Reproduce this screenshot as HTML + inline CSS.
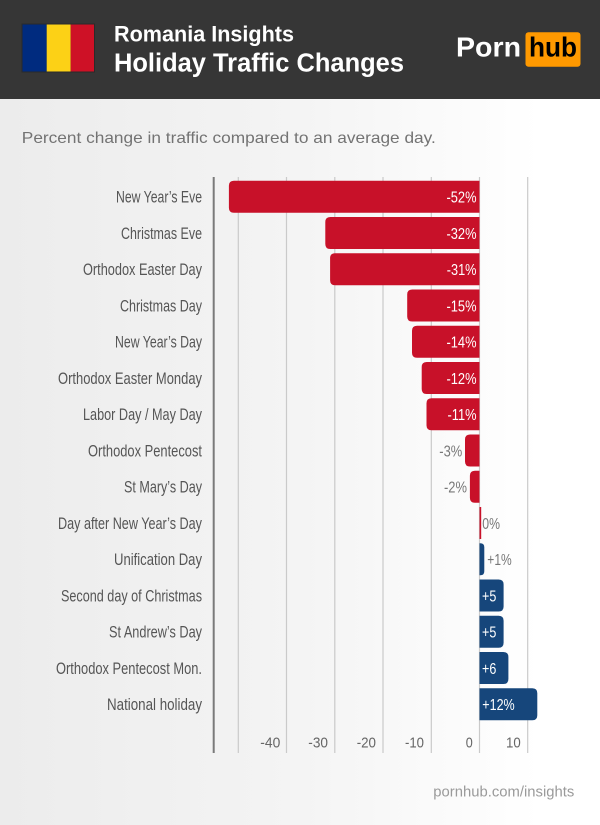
<!DOCTYPE html>
<html>
<head>
<meta charset="utf-8">
<style>
  html,body{margin:0;padding:0;}
  body{width:600px;height:825px;overflow:hidden;background:#fff;}
  svg{display:block;}
  .cat{font-family:"Liberation Sans Narrow","Liberation Sans",sans-serif;font-size:17px;fill:#555;}
  .val{font-family:"Liberation Sans Narrow","Liberation Sans",sans-serif;font-size:16px;}
  .tick{font-family:"Liberation Sans Narrow","Liberation Sans",sans-serif;font-size:15px;fill:#666;}
</style>
</head>
<body>
<svg width="600" height="825" viewBox="0 0 600 825" xmlns="http://www.w3.org/2000/svg">
  <defs>
    <linearGradient id="bg" x1="0" y1="0" x2="1" y2="0">
      <stop offset="0" stop-color="#ececec"/>
      <stop offset="0.5" stop-color="#f4f4f4"/>
      <stop offset="0.9" stop-color="#ffffff"/>
    </linearGradient>
  </defs>
  <!-- background -->
  <rect x="0" y="99" width="600" height="726" fill="url(#bg)"/>
  <!-- header -->
  <rect x="0" y="0" width="600" height="99" fill="#363636"/>
  <!-- flag -->
  <rect x="21.5" y="23.5" width="73.5" height="49" fill="#2a2a2a"/>
  <rect x="22.5" y="24.5" width="24.2" height="47" fill="#002b7f"/>
  <rect x="46.7" y="24.5" width="24" height="47" fill="#fcd116"/>
  <rect x="70.7" y="24.5" width="23.3" height="47" fill="#ce1126"/>
  <!-- titles -->
  <text x="114" y="41.7" font-family="Liberation Sans, sans-serif" font-weight="bold" font-size="22" fill="#fff" textLength="180" lengthAdjust="spacingAndGlyphs">Romania Insights</text>
  <text x="114" y="71.7" font-family="Liberation Sans, sans-serif" font-weight="bold" font-size="25.5" fill="#fff" textLength="290" lengthAdjust="spacingAndGlyphs">Holiday Traffic Changes</text>
  <!-- logo -->
  <text x="456" y="56.7" font-family="Liberation Sans, sans-serif" font-weight="bold" font-size="28" fill="#fff" textLength="65" lengthAdjust="spacingAndGlyphs">Porn</text>
  <rect x="525.5" y="32.3" width="55" height="34.4" rx="3" fill="#ff9900"/>
  <text x="529" y="56.7" font-family="Liberation Sans, sans-serif" font-weight="bold" font-size="28" fill="#000" textLength="48" lengthAdjust="spacingAndGlyphs">hub</text>

  <!-- subtitle -->
  <text x="21.8" y="143" font-family="Liberation Sans, sans-serif" font-size="16" fill="#737373" textLength="414" lengthAdjust="spacingAndGlyphs">Percent change in traffic compared to an average day.</text>

  <!-- gridlines -->
  <g stroke="#cacaca" stroke-width="1.2">
    <line x1="238.3" y1="177" x2="238.3" y2="753"/>
    <line x1="286.5" y1="177" x2="286.5" y2="753"/>
    <line x1="334.8" y1="177" x2="334.8" y2="753"/>
    <line x1="383" y1="177" x2="383" y2="753"/>
    <line x1="431.3" y1="177" x2="431.3" y2="753"/>
    <line x1="479.5" y1="177" x2="479.5" y2="753"/>
    <line x1="527.7" y1="177" x2="527.7" y2="753"/>
  </g>
  <line x1="213.7" y1="177" x2="213.7" y2="753" stroke="#7a7a7a" stroke-width="2"/>

  <!-- bars -->
  <g fill="#c81129">
    <path d="M479.5,180.7H233.9Q228.9,180.7 228.9,185.7V207.7Q228.9,212.7 233.9,212.7H479.5Z"/>
    <path d="M479.5,217H330.3Q325.3,217 325.3,222V244Q325.3,249 330.3,249H479.5Z"/>
    <path d="M479.5,253.2H335.1Q330.1,253.2 330.1,258.2V280.2Q330.1,285.2 335.1,285.2H479.5Z"/>
    <path d="M479.5,289.5H412.2Q407.2,289.5 407.2,294.5V316.5Q407.2,321.5 412.2,321.5H479.5Z"/>
    <path d="M479.5,325.7H417Q412,325.7 412,330.7V352.7Q412,357.7 417,357.7H479.5Z"/>
    <path d="M479.5,362H426.7Q421.7,362 421.7,367V389Q421.7,394 426.7,394H479.5Z"/>
    <path d="M479.5,398.2H431.5Q426.5,398.2 426.5,403.2V425.2Q426.5,430.2 431.5,430.2H479.5Z"/>
    <path d="M479.5,434.5H470Q465,434.5 465,439.5V461.5Q465,466.5 470,466.5H479.5Z"/>
    <path d="M479.5,470.7H474.9Q469.9,470.7 469.9,475.7V497.7Q469.9,502.7 474.9,502.7H479.5Z"/>
    <rect x="479.5" y="507" width="1.7" height="32"/>
  </g>
  <g fill="#16467b">
    <path d="M479.5,543.2H480.3Q484.3,543.2 484.3,547.2V571.2Q484.3,575.2 480.3,575.2H479.5Z"/>
    <path d="M479.5,579.5H498.6Q503.6,579.5 503.6,584.5V606.5Q503.6,611.5 498.6,611.5H479.5Z"/>
    <path d="M479.5,615.7H498.6Q503.6,615.7 503.6,620.7V642.7Q503.6,647.7 498.6,647.7H479.5Z"/>
    <path d="M479.5,652H503.4Q508.4,652 508.4,657V679Q508.4,684 503.4,684H479.5Z"/>
    <path d="M479.5,688.2H532.3Q537.3,688.2 537.3,693.2V715.2Q537.3,720.2 532.3,720.2H479.5Z"/>
  </g>

  <!-- category labels -->
  <g class="cat">
    <text x="116" y="202.7" textLength="86" lengthAdjust="spacingAndGlyphs">New Year’s Eve</text>
    <text x="121" y="239" textLength="81" lengthAdjust="spacingAndGlyphs">Christmas Eve</text>
    <text x="83" y="275.2" textLength="119" lengthAdjust="spacingAndGlyphs">Orthodox Easter Day</text>
    <text x="120" y="311.5" textLength="82" lengthAdjust="spacingAndGlyphs">Christmas Day</text>
    <text x="115" y="347.7" textLength="87" lengthAdjust="spacingAndGlyphs">New Year’s Day</text>
    <text x="58" y="384" textLength="144" lengthAdjust="spacingAndGlyphs">Orthodox Easter Monday</text>
    <text x="83" y="420.2" textLength="119" lengthAdjust="spacingAndGlyphs">Labor Day / May Day</text>
    <text x="88" y="456.5" textLength="114" lengthAdjust="spacingAndGlyphs">Orthodox Pentecost</text>
    <text x="124" y="492.7" textLength="78" lengthAdjust="spacingAndGlyphs">St Mary’s Day</text>
    <text x="58" y="529" textLength="144" lengthAdjust="spacingAndGlyphs">Day after New Year’s Day</text>
    <text x="114" y="565.2" textLength="88" lengthAdjust="spacingAndGlyphs">Unification Day</text>
    <text x="61" y="601.5" textLength="141" lengthAdjust="spacingAndGlyphs">Second day of Christmas</text>
    <text x="109" y="637.7" textLength="93" lengthAdjust="spacingAndGlyphs">St Andrew’s Day</text>
    <text x="56" y="674" textLength="146" lengthAdjust="spacingAndGlyphs">Orthodox Pentecost Mon.</text>
    <text x="107" y="710.2" textLength="95" lengthAdjust="spacingAndGlyphs">National holiday</text>
  </g>

  <!-- value labels -->
  <g class="val" fill="#fff">
    <text x="446.5" y="202.7" textLength="30" lengthAdjust="spacingAndGlyphs">-52%</text>
    <text x="446.5" y="239" textLength="30" lengthAdjust="spacingAndGlyphs">-32%</text>
    <text x="446.8" y="275.2" textLength="29.7" lengthAdjust="spacingAndGlyphs">-31%</text>
    <text x="446.5" y="311.5" textLength="30" lengthAdjust="spacingAndGlyphs">-15%</text>
    <text x="446.5" y="347.7" textLength="30" lengthAdjust="spacingAndGlyphs">-14%</text>
    <text x="446.5" y="384" textLength="30" lengthAdjust="spacingAndGlyphs">-12%</text>
    <text x="447.5" y="420.2" textLength="29" lengthAdjust="spacingAndGlyphs">-11%</text>
    <text x="482" y="601.5" textLength="14.3" lengthAdjust="spacingAndGlyphs">+5</text>
    <text x="482" y="637.7" textLength="14.3" lengthAdjust="spacingAndGlyphs">+5</text>
    <text x="482" y="674" textLength="14.3" lengthAdjust="spacingAndGlyphs">+6</text>
    <text x="482.3" y="710.2" textLength="32.4" lengthAdjust="spacingAndGlyphs">+12%</text>
  </g>
  <g class="val" fill="#777">
    <text x="439.3" y="456.5" textLength="23" lengthAdjust="spacingAndGlyphs">-3%</text>
    <text x="444" y="492.7" textLength="23" lengthAdjust="spacingAndGlyphs">-2%</text>
    <text x="482.3" y="529" textLength="17.7" lengthAdjust="spacingAndGlyphs">0%</text>
    <text x="487.3" y="565.2" textLength="24.4" lengthAdjust="spacingAndGlyphs">+1%</text>
  </g>

  <!-- ticks -->
  <g class="tick">
    <text x="260.3" y="747.7" textLength="20" lengthAdjust="spacingAndGlyphs">-40</text>
    <text x="308.3" y="747.7" textLength="19.7" lengthAdjust="spacingAndGlyphs">-30</text>
    <text x="356.7" y="747.7" textLength="19.3" lengthAdjust="spacingAndGlyphs">-20</text>
    <text x="405" y="747.7" textLength="19" lengthAdjust="spacingAndGlyphs">-10</text>
    <text x="465.7" y="747.7" textLength="7" lengthAdjust="spacingAndGlyphs">0</text>
    <text x="506" y="747.7" textLength="14.7" lengthAdjust="spacingAndGlyphs">10</text>
  </g>

  <!-- footer -->
  <text x="433.3" y="796.7" font-family="Liberation Sans, sans-serif" font-size="15" fill="#9a9a9a" textLength="141" lengthAdjust="spacingAndGlyphs">pornhub.com/insights</text>
</svg>
</body>
</html>
